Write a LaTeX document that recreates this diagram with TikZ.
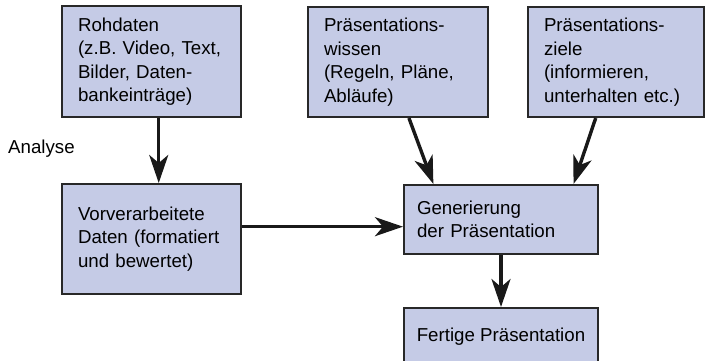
\documentclass[tikz,border=0pt]{standalone}
\usepackage{fontspec}
\setmainfont{Liberation Sans}
\usetikzlibrary{arrows.meta,calc}
\definecolor{boxfill}{RGB}{197,203,230}
\definecolor{boxline}{RGB}{40,40,40}
\definecolor{arrcol}{RGB}{25,25,25}
\begin{document}
\begin{tikzpicture}[x=1pt,y=-1pt,
  box/.style={draw=boxline,fill=boxfill,line width=2pt,anchor=north west,
    inner xsep=16pt,inner ysep=0pt,align=left,
    font=\fontsize{18.7}{23.5}\selectfont},
  arr/.style={draw=arrcol,line width=3.4pt,
    -{Stealth[length=28pt,width=19pt,inset=8pt]}},
  lbl/.style={font=\fontsize{18.7}{23.5}\selectfont,inner sep=0pt}]
\useasboundingbox (0,0) rectangle (706,361);
\node[box,minimum width=179pt,minimum height=111pt,text width=147pt] (b1) at (61,5)
  {Rohdaten\\(z.B. Video, Text,\\Bilder, Daten-\\bankeinträge)};
\node[box,minimum width=180pt,minimum height=110pt,text width=148pt] (b2) at (307,6)
  {Präsentations-\\wissen\\(Regeln, Pläne,\\Abläufe)};
\node[box,minimum width=176pt,minimum height=110pt,text width=144pt] (b3) at (527,6)
  {Präsentations-\\ziele\\(informieren,\\unterhalten etc.)};
\node[box,minimum width=179pt,minimum height=110pt,text width=147pt] (b4) at (61,183)
  {Vorverarbeitete\\Daten (formatiert\\und bewertet)};
\node[box,minimum width=194pt,minimum height=69pt,inner xsep=13pt,text width=168pt] (b5) at (403,184)
  {Generierung\\der Präsentation};
\node[box,minimum width=194pt,minimum height=58pt,inner xsep=10pt] (b6) at (403,307)
  {Fertige Präsentation};
\node[lbl,anchor=west] (an) at (8,149) {Analyse};
\draw[arr] ($(b1.south west)!0.54!(b1.south east)$) -- ($(b4.north west)!0.54!(b4.north east)$);
\coordinate (h) at ($(b4.north east)!0.39!(b4.south east)$);
\draw[arr] (h) -- (h -| b5.west);
\draw[arr] ($(b2.south west)!0.56!(b2.south east)$) -- ($(b5.north west)!0.155!(b5.north east)$);
\draw[arr] ($(b3.south west)!0.386!(b3.south east)$) -- ($(b5.north west)!0.87!(b5.north east)$);
\draw[arr] (b5.south) -- (b6.north);
\end{tikzpicture}
\end{document}
